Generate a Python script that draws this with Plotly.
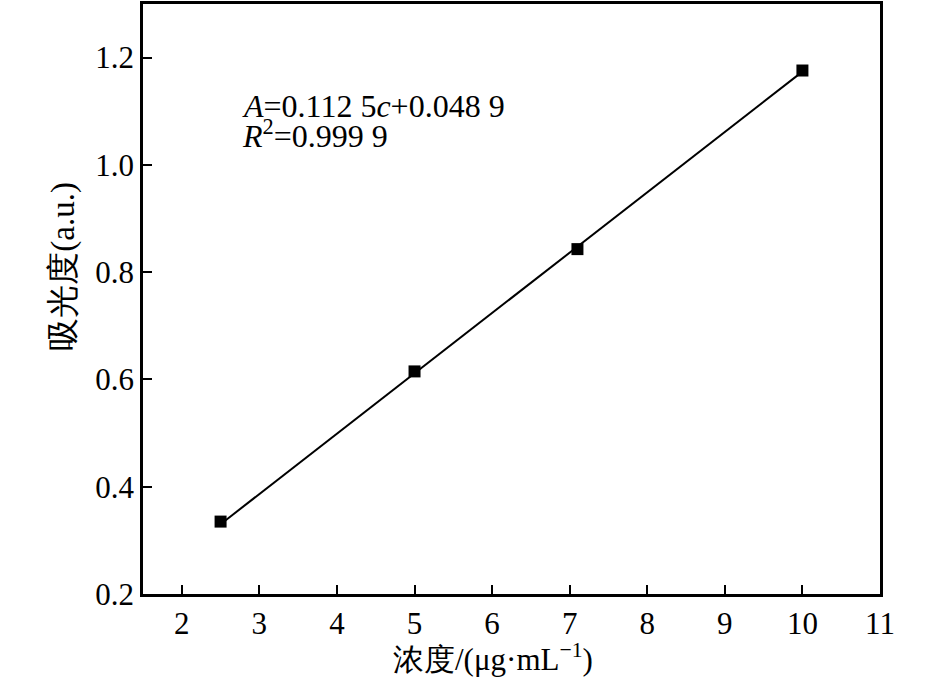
import plotly.graph_objects as go

# measured standards
conc = [2.5, 5.0, 7.1, 10.0]            # μg/mL
absorb = [0.335, 0.615, 0.843, 1.176]   # a.u.

# fitted calibration line A = k*c + b
fit_k = 0.1125
fit_b = 0.0489
fit_x = [2.5, 10.0]
fit_y = [fit_k * c + fit_b for c in fit_x]

x_ticks = [2, 3, 4, 5, 6, 7, 8, 9, 10, 11]
y_ticks = [0.2, 0.4, 0.6, 0.8, 1.0, 1.2]

FONT = 'Liberation Serif'

# plot box in page pixels (from the reference)
L, R, T, B = 143, 880, 1, 594


def px(xp):
    return (xp - L) / (R - L)


def py(yp):
    return (B - yp) / (B - T)


fig = go.Figure()
fig.add_trace(go.Scatter(
    x=fit_x, y=fit_y, mode='lines',
    line=dict(color='black', width=2),
    showlegend=False, hoverinfo='skip',
))
fig.add_trace(go.Scatter(
    x=conc, y=absorb, mode='markers',
    marker=dict(symbol='square', size=12, color='black'),
    showlegend=False,
))

axis_common = dict(
    showline=True, linecolor='black', linewidth=2.5, mirror=True,
    ticks='inside', ticklen=9, tickwidth=2, tickcolor='black',
    showgrid=False, zeroline=False,
    tickfont=dict(family=FONT, size=31, color='black'),
)
fig.update_xaxes(range=[1.5, 11], tickvals=x_ticks, **axis_common)
fig.update_yaxes(range=[0.2, 1.3], tickvals=y_ticks, tickformat='.1f', **axis_common)

# axis titles as annotations so they sit where the reference has them
fig.add_annotation(
    x=px(493), y=py(658), xref='paper', yref='paper', showarrow=False,
    text='浓度/(μg·mL<sup>−1</sup>)', xanchor='center', yanchor='middle',
    font=dict(family=FONT, size=31, color='black'),
)
fig.add_annotation(
    x=px(64), y=py(265), xref='paper', yref='paper', showarrow=False,
    text='吸光度(a.u.)', textangle=-90, xanchor='center', yanchor='middle',
    font=dict(family=FONT, size=33, color='black'),
)

# equation label, two lines kept tight like the reference
eq_lines = ['<i>A</i>=0.112 5<i>c</i>+0.048 9', '<i>R</i><sup>2</sup>=0.999 9']
eq_y = [104, 132]
for txt, yp in zip(eq_lines, eq_y):
    fig.add_annotation(
        x=px(240), y=py(yp), xref='paper', yref='paper', showarrow=False,
        text=txt, xanchor='left', yanchor='middle',
        font=dict(family=FONT, size=32, color='black'),
    )

fig.update_layout(
    width=945, height=679,
    margin=dict(l=L, r=945 - R, t=T, b=679 - B),
    plot_bgcolor='white', paper_bgcolor='white',
    font=dict(family=FONT, color='black'),
)

fig.write_html('out.html', config={'displayModeBar': False},
               post_script="document.body.style.margin='0';")
